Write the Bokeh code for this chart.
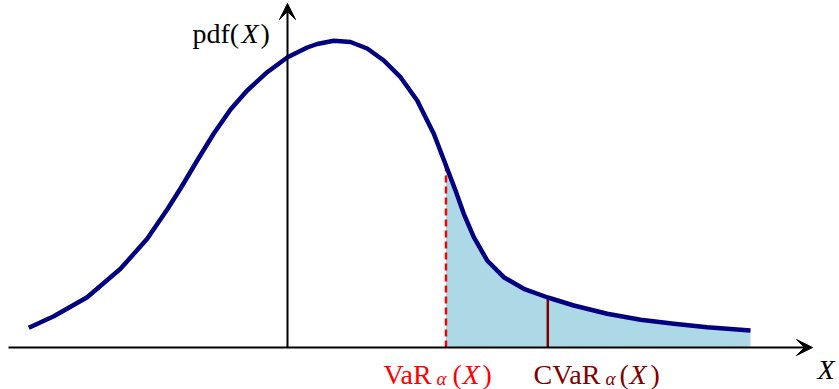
from bokeh.plotting import figure
from bokeh.models import Range1d, Arrow, VeeHead, Label
from bokeh.embed import file_html
from bokeh.resources import INLINE

# density curve (x in arbitrary units, y = pdf)
x_vals = [-2.587, -2.337, -2.003, -1.670, -1.403, -1.203, -1.070, -0.903, -0.737, -0.570,
          -0.403, -0.203, 0.000, 0.197, 0.297, 0.463, 0.630, 0.797, 0.963, 1.130,
          1.297, 1.463, 1.585, 1.680, 1.763, 1.863, 1.997, 2.163, 2.363, 2.603,
          2.863, 3.197, 3.530, 3.863, 4.197, 4.630]
pdf_vals = [0.0197, 0.0313, 0.0503, 0.0787, 0.1087, 0.1380, 0.1590, 0.1870, 0.2140, 0.2380,
            0.2570, 0.2753, 0.2903, 0.3000, 0.3035, 0.3068, 0.3055, 0.2990, 0.2870, 0.2703,
            0.2470, 0.2137, 0.1820, 0.1570, 0.1337, 0.1103, 0.0870, 0.0703, 0.0587, 0.0500,
            0.0420, 0.0337, 0.0277, 0.0237, 0.0203, 0.0170]
var_x = 1.585
cvar_x = 2.603

NAVY = "#000080"
FILL = "#ADD8E6"
RED = "#FF0000"
MAROON = "#800000"
FONT = "Liberation Serif"

p = figure(width=839, height=389, output_backend="svg", toolbar_location=None,
           x_range=Range1d(-2.87, 5.52), y_range=Range1d(-0.042, 0.347),
           min_border=0, x_axis_type=None, y_axis_type=None)
p.grid.visible = False
p.outline_line_color = None
p.background_fill_color = "white"
p.border_fill_color = "white"

# shaded tail
tail_x = [x for x in x_vals if x >= var_x]
tail_y = [y for x, y in zip(x_vals, pdf_vals) if x >= var_x]
p.varea(x=tail_x, y1=0, y2=tail_y, fill_color=FILL)

var_y = pdf_vals[x_vals.index(var_x)]
cvar_y = pdf_vals[x_vals.index(cvar_x)]
p.segment(x0=[var_x], y0=[0], x1=[var_x], y1=[var_y], line_color=RED,
          line_width=2.5, line_dash="7 4")
p.segment(x0=[cvar_x], y0=[0], x1=[cvar_x], y1=[cvar_y], line_color=MAROON,
          line_width=2.5)

p.line(x_vals, pdf_vals, line_color=NAVY, line_width=4.5, line_join="round")

# axes with arrows
p.add_layout(Arrow(x_start=-2.79, y_start=0, x_end=5.25, y_end=0,
                   line_color="black", line_width=2,
                   end=VeeHead(size=16, fill_color="black", line_color="black", line_width=1)))
p.add_layout(Arrow(x_start=0, y_start=0, x_end=0, y_end=0.344,
                   line_color="black", line_width=2,
                   end=VeeHead(size=16, fill_color="black", line_color="black", line_width=1)))

def lab(x, y, text, color="black", size="28px", style="normal"):
    p.add_layout(Label(x=x, y=y, text=text, text_font=FONT, text_font_size=size,
                       text_color=color, text_font_style=style,
                       text_baseline="alphabetic", text_align="left"))

# pdf(X)
lab(-0.95, 0.314, "pdf(")
lab(-0.46, 0.314, "X", style="italic")
lab(-0.27, 0.314, ")")

# X axis label
lab(5.30, -0.022, "X", style="italic")

# VaR label
lab(0.96, -0.027, "VaR", color=RED)
lab(1.49, -0.031, "α", color=RED, size="19px", style="italic")
lab(1.65, -0.027, "(", color=RED)
lab(1.75, -0.027, "X", color=RED, style="italic")
lab(1.95, -0.027, ")", color=RED)

# CVaR label
lab(2.46, -0.027, "CVaR", color=MAROON)
lab(3.18, -0.031, "α", color=MAROON, size="19px", style="italic")
lab(3.32, -0.027, "(", color=MAROON)
lab(3.42, -0.027, "X", color=MAROON, style="italic")
lab(3.63, -0.027, ")", color=MAROON)

open("out.html", "w").write(file_html(p, INLINE))
